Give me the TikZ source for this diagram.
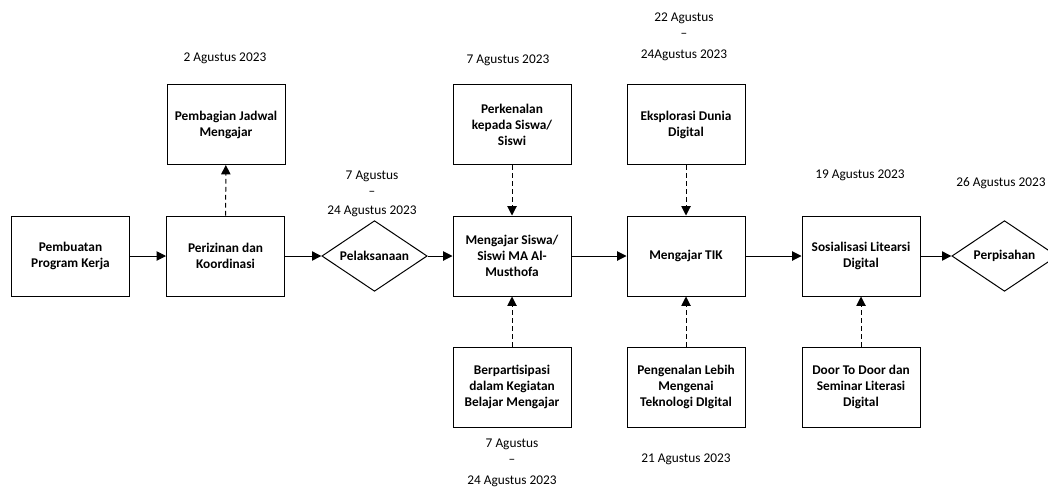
\documentclass[tikz,border=0pt]{standalone}
\usepackage{fontspec}
\setmainfont{Carlito}
\usepackage{tikz}
\usetikzlibrary{shapes,arrows,positioning,calc,arrows.meta}

\begin{document}
\begin{tikzpicture}[x=0.75pt,y=-0.75pt,
    every node/.style={font=\fontsize{10}{12}\selectfont},
    kotak/.style={draw,rectangle,line width=0.75pt,minimum width=88.5pt,minimum height=60pt,align=center,font=\fontsize{10}{12}\selectfont\bfseries},
    wajik/.style={draw,diamond,line width=0.75pt,inner sep=0pt,aspect=1.5,minimum width=79pt,minimum height=53pt,font=\fontsize{10}{12}\selectfont\bfseries},
    tanggal/.style={align=center},
    panah/.style={line width=0.75pt,-{Triangle[length=7pt,width=7pt]}},
    putus/.style={line width=0.75pt,dash pattern=on 3.5pt off 2.5pt,-{Triangle[length=7pt,width=7pt]}}]
    \useasboundingbox (0,0) rectangle (1048,486);

    % Alur utama
    \node[kotak] (prog) at (70.5,256) {Pembuatan\\Program Kerja};
    \node[kotak] (izin) at (225.5,256) {Perizinan dan\\Koordinasi};
    \node[wajik] (laks) at (374.5,256) {Pelaksanaan};
    \node[kotak] (ajar) at (512,256) {Mengajar Siswa/\\Siswi MA Al-\\Musthofa};
    \node[kotak] (tik) at (686,256) {Mengajar TIK};
    \node[kotak] (sosial) at (861,256) {Sosialisasi Litearsi\\Digital};
    \node[wajik] (pisah) at (1004.5,256) {Perpisahan};

    % Kegiatan atas
    \node[kotak] (jadwal) at (226,124.5) {Pembagian Jadwal\\Mengajar};
    \node[kotak] (kenal) at (512,124.5) {Perkenalan\\kepada Siswa/\\Siswi};
    \node[kotak] (eksplor) at (686,124.5) {Eksplorasi Dunia\\Digital};

    % Kegiatan bawah
    \node[kotak] (partisipasi) at (512,387) {Berpartisipasi\\dalam Kegiatan\\Belajar Mengajar};
    \node[kotak] (teknologi) at (686,387) {Pengenalan Lebih\\Mengenai\\Teknologi DIgital};
    \node[kotak] (door) at (861,387) {Door To Door dan\\Seminar Literasi\\Digital};

    % Tanggal
    \node[tanggal] (t1) at (225,58) {2 Agustus 2023};
    \node[tanggal] (t2) at (372,194) {7 Agustus\\–\\[2pt]24 Agustus 2023};
    \node[tanggal] (t3) at (508,60) {7 Agustus 2023};
    \node[tanggal] (t4) at (684,37) {22 Agustus\\–\\[4pt]24Agustus 2023};
    \node[tanggal] (t5) at (860,175) {19 Agustus 2023};
    \node[tanggal] (t6) at (1001,183) {26 Agustus 2023};
    \node[tanggal] (t7) at (512,463) {7 Agustus\\–\\[4pt]24 Agustus 2023};
    \node[tanggal] (t8) at (686,459) {21 Agustus 2023};

    % Panah utama
    \draw[panah] (prog) -- (izin);
    \draw[panah] (izin) -- (laks);
    \draw[panah] (laks) -- (ajar);
    \draw[panah] (ajar) -- (tik);
    \draw[panah] (tik) -- (sosial);
    \draw[panah] (sosial) -- (pisah);

    % Panah putus-putus
    \draw[putus] (izin) -- (jadwal);
    \draw[putus] (kenal) -- (ajar);
    \draw[putus] (eksplor) -- (tik);
    \draw[putus] (partisipasi) -- (ajar);
    \draw[putus] (teknologi) -- (tik);
    \draw[putus] (door) -- (sosial);
\end{tikzpicture}
\end{document}
